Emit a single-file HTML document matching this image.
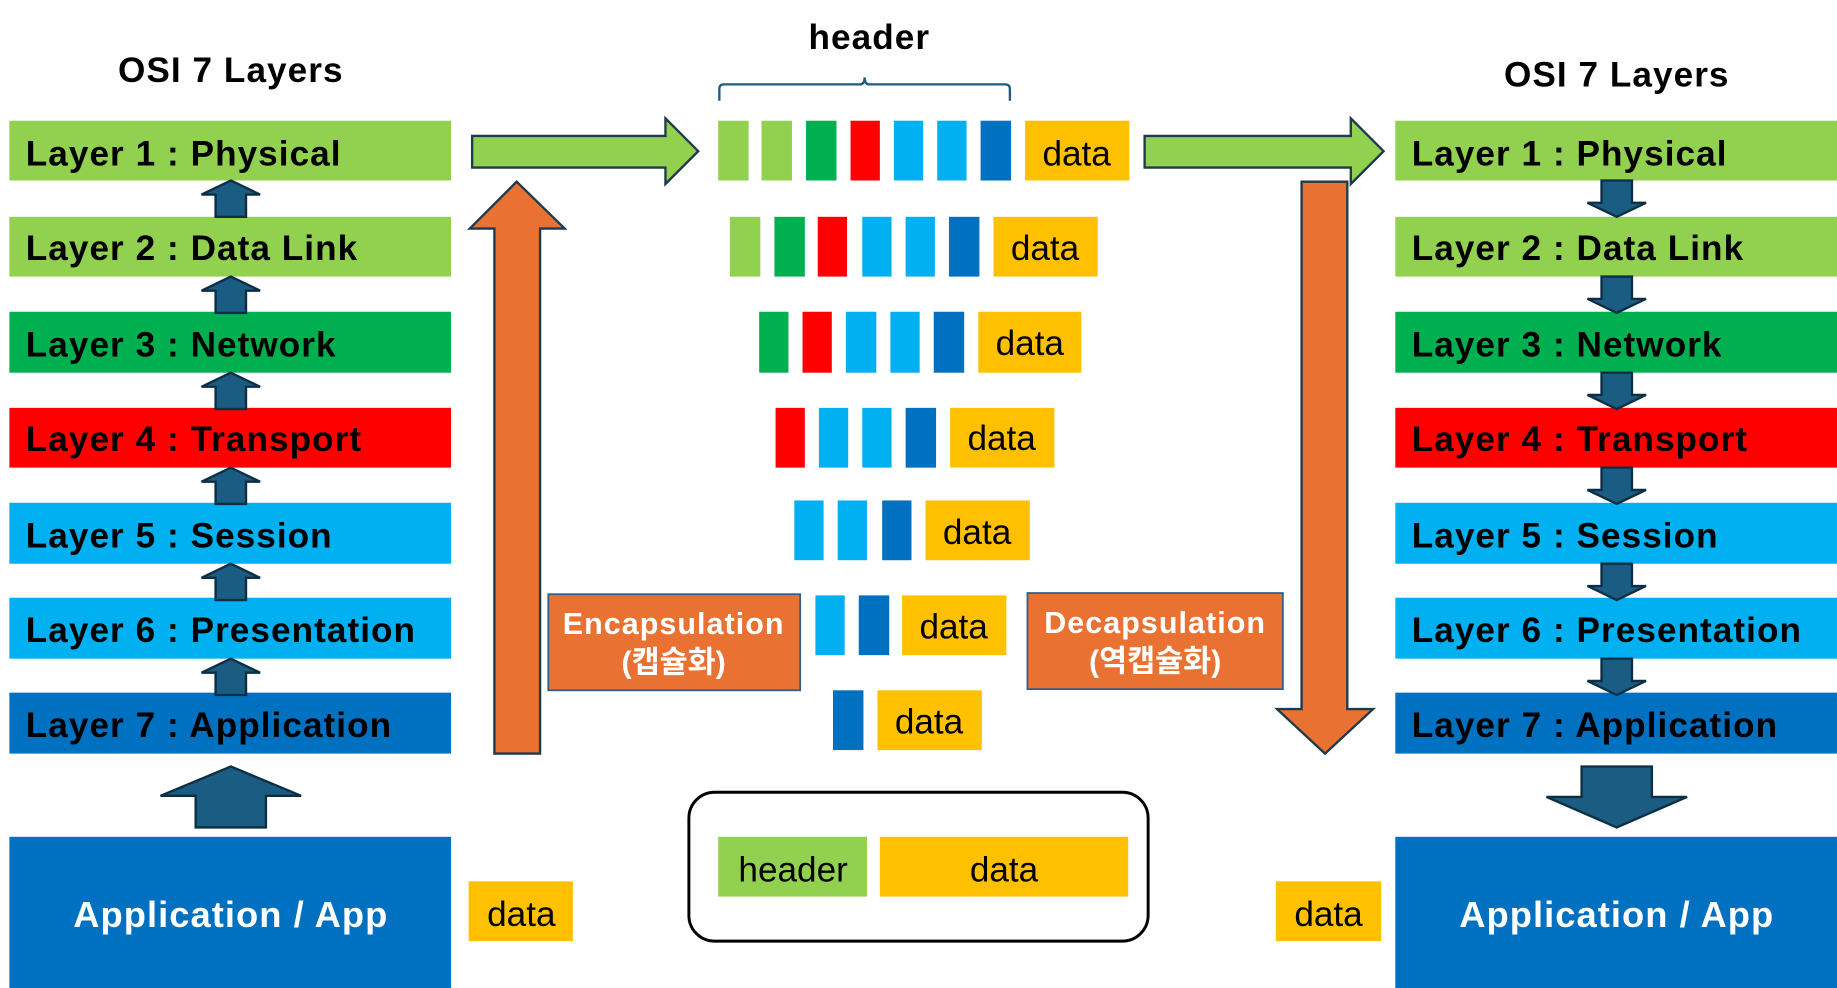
<!DOCTYPE html>
<html><head><meta charset="utf-8"><style>
html,body{margin:0;padding:0;background:#fff;}
svg{display:block}
text{font-family:"Liberation Sans","Noto Sans CJK KR",sans-serif;}
.L{letter-spacing:0.9px}
</style></head><body>
<svg width="1837" height="988" viewBox="0 0 1568 843" preserveAspectRatio="none" xmlns="http://www.w3.org/2000/svg">
<defs>
<g id="up"><path d="M0,0 L25,12 L13,12 L13,31 L-13,31 L-13,12 L-25,12 Z" fill="#1a5c82" stroke="#0d2f44" stroke-width="2"/></g>
<g id="dn"><path d="M0,31 L25,19 L13,19 L13,0 L-13,0 L-13,19 L-25,19 Z" fill="#1a5c82" stroke="#0d2f44" stroke-width="2"/></g>
</defs>
<g font-size="30" font-weight="bold">
<text x="197" y="70" text-anchor="middle" fill="#000" class="L">OSI 7 Layers</text>
<text x="1380" y="74" text-anchor="middle" fill="#000" class="L">OSI 7 Layers</text>
<text x="742" y="42" text-anchor="middle" fill="#000" class="L">header</text>
</g>
<g font-size="30" font-weight="bold" fill="#000" class="L">
<rect x="8" y="103" width="377" height="51" fill="#92d050"/><text x="22" y="141">Layer 1 : Physical</text>
<rect x="8" y="185" width="377" height="51" fill="#92d050"/><text x="22" y="222">Layer 2 : Data Link</text>
<rect x="8" y="266" width="377" height="52" fill="#00b050"/><text x="22" y="304">Layer 3 : Network</text>
<rect x="8" y="348" width="377" height="51" fill="#ff0000"/><text x="22" y="385">Layer 4 : Transport</text>
<rect x="8" y="429" width="377" height="52" fill="#00b0f0"/><text x="22" y="467">Layer 5 : Session</text>
<rect x="8" y="510" width="377" height="52" fill="#00b0f0"/><text x="22" y="548">Layer 6 : Presentation</text>
<rect x="8" y="591" width="377" height="52" fill="#0070c0"/><text x="22" y="629">Layer 7 : Application</text>
</g>
<g font-size="30" font-weight="bold" fill="#000" class="L">
<rect x="1191" y="103" width="377" height="51" fill="#92d050"/><text x="1205" y="141">Layer 1 : Physical</text>
<rect x="1191" y="185" width="377" height="51" fill="#92d050"/><text x="1205" y="222">Layer 2 : Data Link</text>
<rect x="1191" y="266" width="377" height="52" fill="#00b050"/><text x="1205" y="304">Layer 3 : Network</text>
<rect x="1191" y="348" width="377" height="51" fill="#ff0000"/><text x="1205" y="385">Layer 4 : Transport</text>
<rect x="1191" y="429" width="377" height="52" fill="#00b0f0"/><text x="1205" y="467">Layer 5 : Session</text>
<rect x="1191" y="510" width="377" height="52" fill="#00b0f0"/><text x="1205" y="548">Layer 6 : Presentation</text>
<rect x="1191" y="591" width="377" height="52" fill="#0070c0"/><text x="1205" y="629">Layer 7 : Application</text>
</g>
<use href="#up" x="197" y="154"/><use href="#up" x="197" y="236"/><use href="#up" x="197" y="318"/>
<use href="#up" x="197" y="399"/><use href="#up" x="197" y="481"/><use href="#up" x="197" y="562"/>
<use href="#dn" x="1380" y="154"/><use href="#dn" x="1380" y="236"/><use href="#dn" x="1380" y="318"/>
<use href="#dn" x="1380" y="399"/><use href="#dn" x="1380" y="481"/><use href="#dn" x="1380" y="562"/>
<path d="M197,654 L257,679 L227,679 L227,706 L167,706 L167,679 L137,679 Z" fill="#1a5c82" stroke="#0d2f44" stroke-width="2"/>
<path d="M1380,706 L1440,680 L1410,680 L1410,654 L1350,654 L1350,680 L1320,680 Z" fill="#1a5c82" stroke="#0d2f44" stroke-width="2"/>
<rect x="8" y="714" width="377" height="129" fill="#0070c0"/>
<text x="197" y="791" text-anchor="middle" font-size="31" font-weight="bold" fill="#fff" class="L">Application / App</text>
<rect x="1191" y="714" width="377" height="129" fill="#0070c0"/>
<text x="1380" y="791" text-anchor="middle" font-size="31" font-weight="bold" fill="#fff" class="L">Application / App</text>
<g font-size="30" fill="#000" text-anchor="middle">
<rect x="400" y="752" width="89" height="51" fill="#ffc000"/><text x="445" y="790">data</text>
<rect x="1089" y="752" width="90" height="51" fill="#ffc000"/><text x="1134" y="790">data</text>
</g>
<path d="M403,116 L568,116 L568,101 L596,129 L568,157 L568,143 L403,143 Z" fill="#92d050" stroke="#1f3a4d" stroke-width="2"/>
<path d="M977,116 L1153,116 L1153,101 L1181,129 L1153,157 L1153,143 L977,143 Z" fill="#92d050" stroke="#1f3a4d" stroke-width="2"/>
<path d="M441,155 L482,195 L461,195 L461,643 L422,643 L422,195 L401,195 Z" fill="#e97132" stroke="#1f3a4d" stroke-width="2"/>
<path d="M1131,643 L1172,605 L1150,605 L1150,155 L1111,155 L1111,605 L1090,605 Z" fill="#e97132" stroke="#1f3a4d" stroke-width="2"/>
<path d="M614,86 L614,76 Q614,72 618,72 L734,72 Q738,72 738,66 Q738,72 742,72 L858,72 Q862,72 862,76 L862,86" fill="none" stroke="#1f5c82" stroke-width="2"/>
<g>
<rect x="613" y="103" width="26" height="51" fill="#92d050"/><rect x="650" y="103" width="26" height="51" fill="#92d050"/><rect x="688" y="103" width="26" height="51" fill="#00b050"/><rect x="726" y="103" width="25" height="51" fill="#ff0000"/><rect x="763" y="103" width="25" height="51" fill="#00b0f0"/><rect x="800" y="103" width="25" height="51" fill="#00b0f0"/><rect x="837" y="103" width="26" height="51" fill="#0070c0"/><rect x="875" y="103" width="89" height="51" fill="#ffc000"/>
<rect x="623" y="185" width="26" height="51" fill="#92d050"/><rect x="661" y="185" width="26" height="51" fill="#00b050"/><rect x="698" y="185" width="25" height="51" fill="#ff0000"/><rect x="736" y="185" width="25" height="51" fill="#00b0f0"/><rect x="773" y="185" width="25" height="51" fill="#00b0f0"/><rect x="810" y="185" width="26" height="51" fill="#0070c0"/><rect x="848" y="185" width="89" height="51" fill="#ffc000"/>
<rect x="648" y="266" width="25" height="52" fill="#00b050"/><rect x="685" y="266" width="25" height="52" fill="#ff0000"/><rect x="722" y="266" width="26" height="52" fill="#00b0f0"/><rect x="760" y="266" width="25" height="52" fill="#00b0f0"/><rect x="797" y="266" width="26" height="52" fill="#0070c0"/><rect x="835" y="266" width="88" height="52" fill="#ffc000"/>
<rect x="662" y="348" width="25" height="51" fill="#ff0000"/><rect x="699" y="348" width="25" height="51" fill="#00b0f0"/><rect x="736" y="348" width="25" height="51" fill="#00b0f0"/><rect x="773" y="348" width="26" height="51" fill="#0070c0"/><rect x="811" y="348" width="89" height="51" fill="#ffc000"/>
<rect x="678" y="427" width="25" height="51" fill="#00b0f0"/><rect x="715" y="427" width="25" height="51" fill="#00b0f0"/><rect x="753" y="427" width="25" height="51" fill="#0070c0"/><rect x="790" y="427" width="89" height="51" fill="#ffc000"/>
<rect x="696" y="508" width="25" height="51" fill="#00b0f0"/><rect x="733" y="508" width="26" height="51" fill="#0070c0"/><rect x="770" y="508" width="89" height="51" fill="#ffc000"/>
<rect x="711" y="589" width="26" height="51" fill="#0070c0"/><rect x="749" y="589" width="89" height="51" fill="#ffc000"/>
</g>
<g font-size="30" fill="#000" text-anchor="middle">
<text x="919" y="141">data</text><text x="892" y="222">data</text><text x="879" y="303">data</text><text x="855" y="384">data</text><text x="834" y="464">data</text><text x="814" y="545">data</text><text x="793" y="626">data</text>
</g>
<rect x="468" y="507" width="215" height="82" fill="#e97132" stroke="#2e5d8a" stroke-width="1.5"/>
<text x="575" y="541" text-anchor="middle" font-size="26" font-weight="bold" fill="#fff" class="L">Encapsulation</text>
<text x="575" y="574" text-anchor="middle" font-size="26" font-weight="bold" fill="#fff">(캡슐화)</text>
<rect x="877" y="506" width="218" height="82" fill="#e97132" stroke="#2e5d8a" stroke-width="1.5"/>
<text x="986" y="540" text-anchor="middle" font-size="26" font-weight="bold" fill="#fff" class="L">Decapsulation</text>
<text x="986" y="573" text-anchor="middle" font-size="26" font-weight="bold" fill="#fff">(역캡슐화)</text>
<rect x="588" y="676" width="392" height="127" rx="22" fill="#fff" stroke="#000" stroke-width="2.5"/>
<rect x="613" y="714" width="127" height="51" fill="#92d050"/>
<rect x="751" y="714" width="212" height="51" fill="#ffc000"/>
<text x="677" y="752" text-anchor="middle" font-size="30" fill="#000">header</text>
<text x="857" y="752" text-anchor="middle" font-size="30" fill="#000">data</text>
</svg>
</body></html>
